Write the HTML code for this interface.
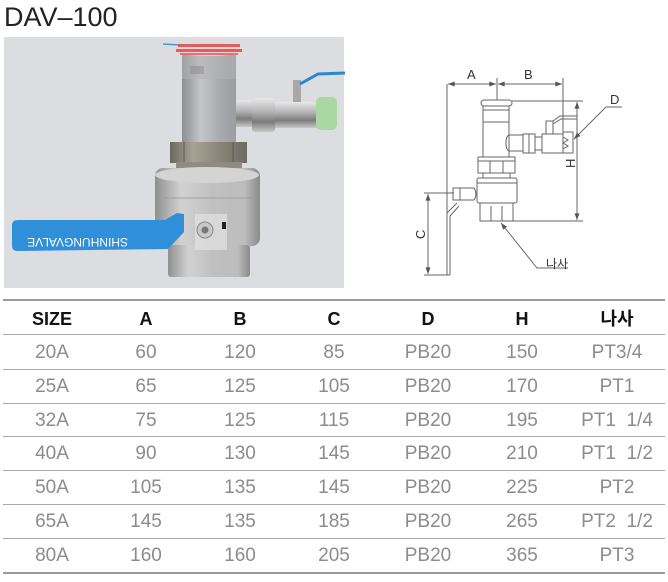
<!DOCTYPE html>
<html><head><meta charset="utf-8"><style>
html,body{margin:0;padding:0;background:#fff;}
body{width:668px;height:582px;position:relative;overflow:hidden;font-family:"Liberation Sans","Noto Sans CJK KR",sans-serif;}
.title{position:absolute;left:4px;top:0px;font-size:27px;color:#222;line-height:34px;letter-spacing:0px;}
.c{position:absolute;width:94px;text-align:center;font-size:19px;color:#8c8c8c;line-height:34px;}
.h{color:#111;font-weight:bold;font-size:18px;}
.ln{position:absolute;left:3px;width:662px;height:1px;background:#a8a8a8;}
.tk{height:2px;background:#9a9a9a;}
</style></head><body>
<div class="title">DAV–100</div>
<svg width="668" height="295" style="position:absolute;left:0;top:0" xmlns="http://www.w3.org/2000/svg">
<defs>
<linearGradient id="pipe" x1="0" x2="1" y1="0" y2="0"><stop offset="0" stop-color="#8e8f92"/><stop offset="0.35" stop-color="#c4c5c8"/><stop offset="0.7" stop-color="#a9aaad"/><stop offset="1" stop-color="#9c9da0"/></linearGradient>
<linearGradient id="chr" x1="0" x2="0" y1="0" y2="1"><stop offset="0" stop-color="#e8e8e8"/><stop offset="0.4" stop-color="#b4b4b4"/><stop offset="0.7" stop-color="#7c7c7c"/><stop offset="1" stop-color="#c8c8c8"/></linearGradient>
<linearGradient id="hex" x1="0" x2="1" y1="0" y2="0"><stop offset="0" stop-color="#6c685e"/><stop offset="0.3" stop-color="#a7a294"/><stop offset="0.6" stop-color="#8d887b"/><stop offset="1" stop-color="#6e6a60"/></linearGradient>
<linearGradient id="body" x1="0" x2="1" y1="0" y2="0"><stop offset="0" stop-color="#8f8f8f"/><stop offset="0.25" stop-color="#d2d2d2"/><stop offset="0.55" stop-color="#c0c0c0"/><stop offset="0.85" stop-color="#bdbdbd"/><stop offset="1" stop-color="#8a8a8a"/></linearGradient>
<marker id="ar" viewBox="0 0 8 6" refX="8" refY="3" markerWidth="7" markerHeight="5" orient="auto-start-reverse"><path d="M0,0 L8,3 L0,6 Z" fill="#555"/></marker>
</defs>
<!-- photo -->
<rect x="4" y="37" width="340" height="251" fill="#dcdde0"/>
<line x1="163" y1="44" x2="180" y2="45" stroke="#3aa0e0" stroke-width="1.5"/>
<rect x="182" y="55" width="54" height="90" fill="url(#pipe)"/>
<rect x="182" y="55" width="54" height="24" fill="#b3b4b7" opacity="0.5"/>
<ellipse cx="209" cy="49" rx="34" ry="7" fill="#f1d2d2"/>
<rect x="178" y="44" width="62" height="3" fill="#d94a4a" opacity="0.85"/>
<rect x="176" y="49" width="66" height="3" fill="#d94a4a" opacity="0.85"/>
<rect x="180" y="53" width="58" height="2" fill="#d94a4a" opacity="0.7"/>
<rect x="190" y="66" width="14" height="8" fill="#8a8a8c" opacity="0.5"/>
<rect x="236" y="100" width="16" height="27" fill="url(#chr)"/>
<rect x="252" y="98" width="23" height="34" rx="3" fill="url(#chr)"/>
<rect x="275" y="102" width="44" height="26" fill="url(#chr)"/>
<rect x="293" y="80" width="8" height="22" fill="#a8a8a8"/>
<polyline points="300,84 318,74 345,73" fill="none" stroke="#2a88d0" stroke-width="3"/>
<rect x="316" y="97" width="21" height="33" rx="5" fill="#a9d8a2"/>
<rect x="170" y="142" width="77" height="21" fill="url(#hex)"/>
<line x1="184" y1="142" x2="184" y2="163" stroke="#5e5a52" stroke-width="1"/>
<line x1="233" y1="142" x2="233" y2="163" stroke="#5e5a52" stroke-width="1"/>
<rect x="176" y="162" width="66" height="10" fill="#8e8b84"/>
<rect x="155" y="168" width="105" height="78" rx="8" fill="url(#body)"/>
<ellipse cx="207" cy="175" rx="52" ry="8" fill="#d4d4d4"/>
<line x1="160" y1="198" x2="255" y2="198" stroke="#a0a0a0" stroke-width="1"/>
<rect x="168" y="245" width="82" height="32" rx="3" fill="url(#body)"/>
<rect x="195" y="214" width="32" height="36" fill="#e2e2e2" opacity="0.7"/>
<path d="M12,225 Q12,220 18,220 L165,220 L177,213 L184,214 L184,232 L168,249 L18,251 Q12,251 12,246 Z" fill="#2f8fd8"/>
<text x="0" y="0" transform="translate(128,238) rotate(180)" font-size="12" fill="#fff" font-family="Liberation Sans, sans-serif">SHINHUNGVALVE</text>
<circle cx="205" cy="230" r="8" fill="#c8c8c8" stroke="#888" stroke-width="1"/>
<circle cx="205" cy="230" r="3.5" fill="#777"/>
<rect x="222" y="222" width="4" height="7" fill="#222"/>
<!-- drawing -->
<g fill="none" stroke="#666" stroke-width="1">
<line x1="447" y1="84" x2="447" y2="275"/>
<line x1="497" y1="78" x2="497" y2="100"/>
<line x1="563" y1="78" x2="563" y2="132"/>
<line x1="448" y1="84" x2="496" y2="84" marker-start="url(#ar)" marker-end="url(#ar)"/>
<line x1="498" y1="84" x2="562" y2="84" marker-start="url(#ar)" marker-end="url(#ar)"/>
<line x1="512" y1="101" x2="583" y2="101"/>
<line x1="513" y1="221" x2="583" y2="221"/>
<line x1="577" y1="102" x2="577" y2="220" marker-start="url(#ar)" marker-end="url(#ar)"/>
<line x1="424" y1="193" x2="454" y2="193"/>
<line x1="424" y1="275" x2="450" y2="275"/>
<line x1="428" y1="194" x2="428" y2="274" marker-start="url(#ar)" marker-end="url(#ar)"/>
<polyline points="622,107 606,107 574,139" marker-end="url(#ar)"/>
<polyline points="568,268 537,268 501,223" marker-end="url(#ar)"/>
<rect x="481" y="100" width="31" height="6" rx="3"/>
<rect x="483" y="106" width="26" height="51"/>
<line x1="483" y1="110" x2="509" y2="110"/>
<line x1="483" y1="122" x2="509" y2="122"/>
<path d="M523,135 L510,135 Q506,135 506,143 Q506,151 510,151 L523,151"/>
<rect x="523" y="134" width="12" height="19"/>
<line x1="529" y1="134" x2="529" y2="153"/>
<rect x="535" y="137" width="7" height="13"/>
<rect x="542" y="134" width="21" height="19"/>
<rect x="563" y="132" width="10" height="21"/>
<polyline points="563,137 568,140 563,143 568,146 563,149" />
<rect x="546" y="121" width="7" height="13"/>
<polyline points="553,121 560,116 577,116"/>
<polyline points="553,124 561,119 577,119"/>
<rect x="478" y="157" width="37" height="16"/>
<line x1="490" y1="161" x2="490" y2="173"/>
<line x1="503" y1="161" x2="503" y2="173"/>
<line x1="478" y1="161" x2="515" y2="161"/>
<rect x="483" y="173" width="27" height="5"/>
<rect x="477" y="178" width="40" height="25" rx="2"/>
<line x1="477" y1="183" x2="517" y2="183"/>
<rect x="480" y="203" width="33" height="18"/>
<line x1="491" y1="206" x2="491" y2="221"/>
<line x1="502" y1="206" x2="502" y2="221"/>
<rect x="453" y="188" width="7" height="12"/>
<path d="M460,188 L474,188 Q478,194 474,200 L460,200"/>
<polyline points="447,213 457,203"/>
<polyline points="450,275 450,216 459,206"/>
</g>
<g font-family="Liberation Sans, Noto Sans CJK KR, sans-serif" font-size="13" fill="#333">
<text x="467" y="79">A</text>
<text x="524" y="79">B</text>
<text x="610" y="104">D</text>
<text x="0" y="0" transform="translate(575,168) rotate(-90)">H</text>
<text x="0" y="0" transform="translate(425,239) rotate(-90)">C</text>
<text x="546" y="268" font-size="12">나사</text>
</g>
</svg>
<!-- table -->
<div class="ln tk" style="top:299px"></div>
<div class="ln" style="top:334px"></div>
<div class="ln" style="top:369px"></div>
<div class="ln" style="top:403px"></div>
<div class="ln" style="top:436px"></div>
<div class="ln" style="top:470px"></div>
<div class="ln" style="top:504px"></div>
<div class="ln" style="top:538px"></div>
<div class="ln tk" style="top:572px"></div>

<div class="c h" style="left:5px;top:302px">SIZE</div>
<div class="c h" style="left:99px;top:302px">A</div>
<div class="c h" style="left:193px;top:302px">B</div>
<div class="c h" style="left:287px;top:302px">C</div>
<div class="c h" style="left:381px;top:302px">D</div>
<div class="c h" style="left:475px;top:302px">H</div>
<div class="c h" style="left:570px;top:302px">나사</div>

<div class="c" style="left:5px;top:336px">20A</div><div class="c" style="left:99px;top:336px">60</div><div class="c" style="left:193px;top:336px">120</div><div class="c" style="left:287px;top:336px">85</div><div class="c" style="left:381px;top:336px">PB20</div><div class="c" style="left:475px;top:336px">150</div><div class="c" style="left:570px;top:336px">PT3/4</div>
<div class="c" style="left:5px;top:370px">25A</div><div class="c" style="left:99px;top:370px">65</div><div class="c" style="left:193px;top:370px">125</div><div class="c" style="left:287px;top:370px">105</div><div class="c" style="left:381px;top:370px">PB20</div><div class="c" style="left:475px;top:370px">170</div><div class="c" style="left:570px;top:370px">PT1</div>
<div class="c" style="left:5px;top:404px">32A</div><div class="c" style="left:99px;top:404px">75</div><div class="c" style="left:193px;top:404px">125</div><div class="c" style="left:287px;top:404px">115</div><div class="c" style="left:381px;top:404px">PB20</div><div class="c" style="left:475px;top:404px">195</div><div class="c" style="left:570px;top:404px">PT1&nbsp;&nbsp;1/4</div>
<div class="c" style="left:5px;top:437px">40A</div><div class="c" style="left:99px;top:437px">90</div><div class="c" style="left:193px;top:437px">130</div><div class="c" style="left:287px;top:437px">145</div><div class="c" style="left:381px;top:437px">PB20</div><div class="c" style="left:475px;top:437px">210</div><div class="c" style="left:570px;top:437px">PT1&nbsp;&nbsp;1/2</div>
<div class="c" style="left:5px;top:471px">50A</div><div class="c" style="left:99px;top:471px">105</div><div class="c" style="left:193px;top:471px">135</div><div class="c" style="left:287px;top:471px">145</div><div class="c" style="left:381px;top:471px">PB20</div><div class="c" style="left:475px;top:471px">225</div><div class="c" style="left:570px;top:471px">PT2</div>
<div class="c" style="left:5px;top:505px">65A</div><div class="c" style="left:99px;top:505px">145</div><div class="c" style="left:193px;top:505px">135</div><div class="c" style="left:287px;top:505px">185</div><div class="c" style="left:381px;top:505px">PB20</div><div class="c" style="left:475px;top:505px">265</div><div class="c" style="left:570px;top:505px">PT2&nbsp;&nbsp;1/2</div>
<div class="c" style="left:5px;top:539px">80A</div><div class="c" style="left:99px;top:539px">160</div><div class="c" style="left:193px;top:539px">160</div><div class="c" style="left:287px;top:539px">205</div><div class="c" style="left:381px;top:539px">PB20</div><div class="c" style="left:475px;top:539px">365</div><div class="c" style="left:570px;top:539px">PT3</div>
</body></html>
